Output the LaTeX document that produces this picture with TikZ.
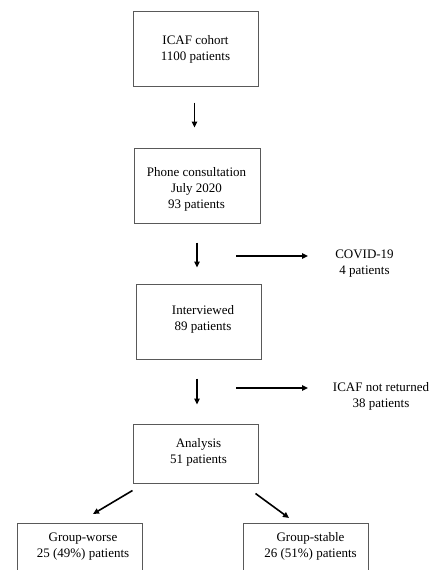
\documentclass[tikz,border=0pt]{standalone}
\usepackage{fontspec}
\setmainfont{Liberation Serif}
\usetikzlibrary{arrows.meta,calc}
\tikzset{
  box/.style={draw=black!65, line width=1pt, minimum width=125pt, inner sep=0pt},
  txt/.style={align=center, inner sep=0pt, font=\fontsize{13}{16}\selectfont},
  arr/.style={line width=1.6pt, -{Triangle[length=6pt,width=5.5pt]}}
}
\begin{document}
\begin{tikzpicture}[x=1pt,y=-1pt]
\useasboundingbox (0,0) rectangle (430,570);
\clip (0,0) rectangle (430,570);
% boxes
\node[box, minimum height=75pt] (b1) at (195.5,48.5) {};
\node[box, minimum height=75pt, minimum width=126pt] (b2) at (197,185.5) {};
\node[box, minimum height=75pt] (b3) at (198.5,321.5) {};
\node[box, minimum height=59pt] (b4) at (195.5,453.5) {};
\node[box, minimum height=75pt] (b5) at (79.5,561) {};
\node[box, minimum height=75pt] (b6) at (305.5,561) {};
% texts
\node[txt] (t1) at (195.5,49.5) {ICAF cohort\\1100 patients};
\node[txt] (t2) at (196.5,189) {Phone consultation\\July 2020\\93 patients};
\node[txt] (t3) at (203,319) {Interviewed\\89 patients};
\node[txt] (t4) at (198.5,452) {Analysis\\51 patients};
\node[txt] (t5) at (83,546.5) {Group-worse\\25 (49\%) patients};
\node[txt] (t6) at (310.5,546.5) {Group-stable\\26 (51\%) patients};
\node[txt] (covid) at (364.5,263.5) {COVID-19\\4 patients};
\node[txt] (notret) at (381,396) {ICAF not returned\\38 patients};
% vertical arrows
\draw[arr, shorten <=16pt, shorten >=20pt] ($(b1.south)+(-1,0)$) -- ($(b1.south |- b2.north)+(-1,0)$);
\draw[arr, shorten <=19pt, shorten >=16pt] (b2.south) -- (b2.south |- b3.north);
\draw[arr, shorten <=19pt, shorten >=19pt] ($(b3.south)+(-1.5,0)$) -- ($(b3.south |- b4.north)+(-1.5,0)$);
% side arrows
\coordinate (s1) at (236,256);
\coordinate (e1) at (308,256);
\draw[arr] (s1) -- (e1);
\coordinate (s2) at (236,388);
\coordinate (e2) at (308,388);
\draw[arr] (s2) -- (e2);
% diagonal arrows
\draw[arr] ($(b4.south west)+(0,7)$) -- ($(b5.north)+(13.5,-9)$);
\draw[arr] ($(b4.south east)+(-3,10)$) -- ($(b6.north)+(-16.5,-5)$);
\end{tikzpicture}
\end{document}
